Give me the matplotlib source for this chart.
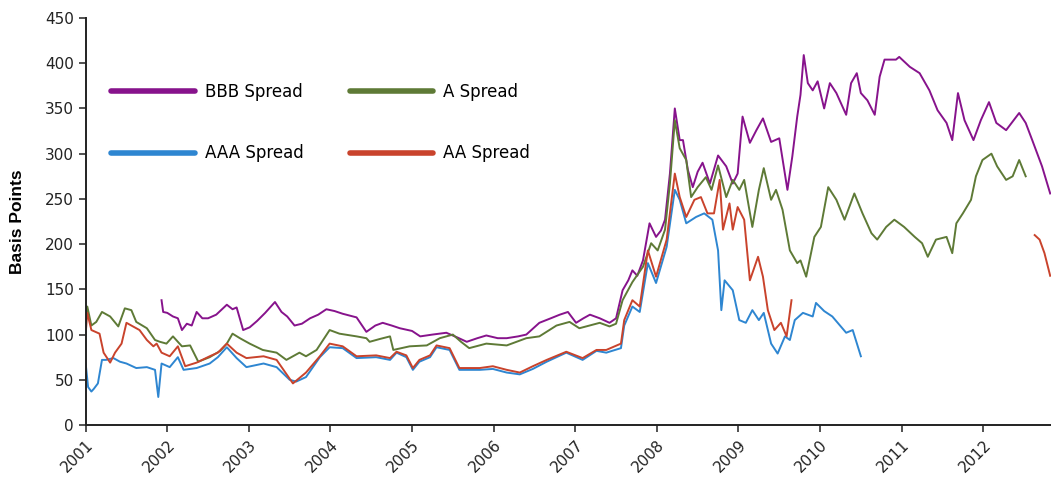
import numpy as np
import matplotlib
matplotlib.use("Agg")
import matplotlib.pyplot as plt
from matplotlib.lines import Line2D

nan = np.nan

bbb_t = [
2001.93, 2001.95, 2002.00, 2002.07, 2002.13, 2002.18, 2002.24, 2002.30, 2002.36, 2002.43,
2002.50, 2002.60, 2002.73, 2002.80, 2002.85, 2002.93, 2003.01, 2003.10, 2003.20, 2003.32,
2003.40, 2003.47, 2003.56, 2003.65, 2003.75, 2003.85, 2003.95, 2004.05, 2004.15, 2004.32,
2004.44, 2004.55, 2004.64, 2004.75, 2004.85, 2005.00, 2005.10, 2005.25, 2005.42, 2005.55,
2005.67, 2005.80, 2005.91, 2006.05, 2006.16, 2006.30, 2006.40, 2006.56, 2006.70, 2006.81,
2006.91, 2007.01, 2007.10, 2007.18, 2007.30, 2007.42, 2007.50, 2007.58, 2007.65, 2007.70,
2007.76, 2007.83, 2007.91, 2007.99, 2008.05, 2008.10, 2008.16, 2008.22, 2008.28, 2008.32,
2008.38, 2008.44, 2008.50, 2008.56, 2008.65, 2008.75, 2008.85, 2008.93, 2008.99, 2009.05,
2009.14, 2009.22, 2009.30, 2009.40, 2009.50, 2009.60, 2009.66, 2009.72, 2009.76, 2009.80,
2009.85, 2009.91, 2009.97, 2010.05, 2010.12, 2010.20, 2010.32, 2010.38, 2010.45, 2010.50,
2010.58, 2010.67, 2010.73, 2010.79, 2010.93, 2010.97, 2011.10, 2011.22, 2011.34, 2011.44,
2011.55, 2011.62, 2011.69, 2011.77, 2011.88, 2011.97, 2012.07, 2012.16, 2012.28, 2012.44,
2012.52, 2012.60, 2012.72, 2012.82]
bbb_v = [
138, 125, 124, 120, 118, 105, 112, 110, 125, 118,
118, 122, 133, 128, 130, 105, 108, 115, 124, 136,
125, 120, 110, 112, 118, 122, 128, 126, 123, 119,
103, 110, 113, 110, 107, 104, 98, 100, 102, 97,
92, 96, 99, 96, 96, 98, 100, 113, 118, 122,
125, 113, 118, 122, 118, 113, 118, 149, 160, 171,
165, 182, 223, 208, 215, 227, 278, 350, 315, 315,
282, 263, 280, 290, 267, 298, 286, 267, 278, 341,
312, 326, 339, 313, 317, 260, 297, 341, 365, 409,
378, 370, 380, 350, 378, 367, 343, 378, 389, 367,
359, 343, 385, 404, 404, 407, 396, 389, 370, 348,
334, 315, 367, 337, 315, 337, 357, 334, 326, 345,
334, 315, 286, 256]

a_t = [
2001.00, 2001.02, 2001.07, 2001.13, 2001.20, 2001.30, 2001.40, 2001.48, 2001.56, 2001.62,
2001.75, 2001.85, 2001.91, 2001.99, 2002.07, 2002.18, 2002.28, 2002.38, 2002.52, 2002.65,
2002.73, 2002.80, 2002.89, 2003.01, 2003.17, 2003.34, 2003.46, 2003.62, 2003.70, 2003.83,
2003.99, 2004.11, 2004.32, 2004.44, 2004.48, 2004.60, 2004.73, 2004.77, 2004.97, 2005.18,
2005.34, 2005.50, 2005.60, 2005.70, 2005.91, 2006.16, 2006.40, 2006.56, 2006.77, 2006.93,
2007.05, 2007.30, 2007.42, 2007.50, 2007.58, 2007.70, 2007.83, 2007.93, 2008.01, 2008.10,
2008.16, 2008.22, 2008.28, 2008.36, 2008.42, 2008.50, 2008.60, 2008.67, 2008.75, 2008.85,
2008.93, 2009.01, 2009.07, 2009.17, 2009.25, 2009.31, 2009.40, 2009.46, 2009.54, 2009.63,
2009.72, 2009.76, 2009.83, 2009.93, 2010.01, 2010.10, 2010.20, 2010.30, 2010.42, 2010.52,
2010.63, 2010.70, 2010.81, 2010.91, 2011.03, 2011.16, 2011.25, 2011.32, 2011.42, 2011.55,
2011.62, 2011.67, 2011.75, 2011.85, 2011.91, 2011.99, 2012.10, 2012.17, 2012.28, 2012.36,
2012.44, 2012.52]
a_v = [
120, 131, 110, 114, 125, 120, 109, 129, 127, 114,
107, 94, 92, 90, 98, 87, 88, 70, 75, 82,
90, 101, 96, 90, 83, 80, 72, 80, 76, 83,
105, 101, 98, 96, 92, 95, 98, 83, 87, 88,
96, 100, 92, 85, 90, 88, 96, 98, 110, 114,
107, 113, 109, 112, 138, 158, 175, 201, 193, 216,
267, 337, 306, 293, 252, 263, 274, 260, 287, 252,
271, 260, 271, 219, 260, 284, 249, 260, 238, 193,
179, 182, 164, 208, 219, 263, 249, 227, 256, 234,
212, 205, 219, 227, 219, 208, 201, 186, 205, 208,
190, 223, 234, 249, 275, 293, 300, 286, 271, 275,
293, 275]

aaa_t = [
2001.00, 2001.03, 2001.07, 2001.10, 2001.15, 2001.20, 2001.25, 2001.34, 2001.42, 2001.50,
2001.62, 2001.75, 2001.85, 2001.89, 2001.93, 2002.03, 2002.13, 2002.20, 2002.36, 2002.52,
2002.62, 2002.73, 2002.85, 2002.97, 2003.18, 2003.34, 2003.50, 2003.58, 2003.70, 2003.87,
2003.99, 2004.15, 2004.32, 2004.56, 2004.73, 2004.81, 2004.93, 2005.01, 2005.09, 2005.22,
2005.30, 2005.46, 2005.58, 2005.83, 2005.99, 2006.16, 2006.32, 2006.48, 2006.65, 2006.89,
2007.09, 2007.26, 2007.38, 2007.56, 2007.60, 2007.70, 2007.79, 2007.89, 2007.99, 2008.12,
2008.22, 2008.28, 2008.36, 2008.48, 2008.58, 2008.68, 2008.75, 2008.79, 2008.83, 2008.93,
2009.01, 2009.09, 2009.17, 2009.25, 2009.31, 2009.40, 2009.48, 2009.57, 2009.63, 2009.69,
2009.79, 2009.91, 2009.95, 2010.05, 2010.15, 2010.32, 2010.40, 2010.50]
aaa_v = [
68, 42, 37, 40, 46, 72, 72, 74, 70, 68,
63, 64, 61, 31, 68, 64, 75, 61, 63, 68,
75, 86, 74, 64, 68, 64, 50, 48, 53, 75,
86, 85, 74, 75, 72, 80, 75, 61, 70, 75,
86, 83, 61, 61, 62, 58, 56, 62, 70, 80,
72, 82, 80, 85, 110, 131, 125, 179, 157, 197,
260, 249, 223, 230, 234, 227, 193, 127, 160, 149,
116, 113, 127, 116, 124, 90, 79, 98, 94, 116,
124, 120, 135, 126, 120, 102, 105, 76]

aa_t = [
2001.00, 2001.02, 2001.07, 2001.17, 2001.22, 2001.30, 2001.36, 2001.44, 2001.50, 2001.58,
2001.66, 2001.75, 2001.83, 2001.87, 2001.93, 2002.03, 2002.13, 2002.22, 2002.36, 2002.52,
2002.62, 2002.73, 2002.85, 2002.97, 2003.18, 2003.34, 2003.54, 2003.70, 2003.87, 2003.99,
2004.15, 2004.32, 2004.56, 2004.73, 2004.81, 2004.93, 2005.01, 2005.09, 2005.22, 2005.30,
2005.46, 2005.58, 2005.83, 2005.99, 2006.16, 2006.32, 2006.48, 2006.65, 2006.89, 2007.09,
2007.26, 2007.38, 2007.56, 2007.60, 2007.70, 2007.79, 2007.89, 2007.99, 2008.12, 2008.22,
2008.28, 2008.36, 2008.46, 2008.54, 2008.62, 2008.70, 2008.77, 2008.81, 2008.89, 2008.93,
2008.99, 2009.07, 2009.14, 2009.24, 2009.30, 2009.36, 2009.44, 2009.52, 2009.59, 2009.65,
2009.66, 2012.63, 2012.69, 2012.75, 2012.82]
aa_v = [
101, 124, 105, 101, 80, 69, 80, 90, 113, 109,
105, 94, 87, 90, 80, 76, 87, 65, 69, 76,
80, 90, 80, 74, 76, 72, 46, 58, 76, 90,
87, 76, 77, 74, 81, 77, 63, 72, 77, 88,
85, 63, 63, 65, 61, 58, 65, 72, 81, 74,
83, 83, 90, 116, 138, 131, 193, 164, 205, 278,
252, 230, 249, 252, 234, 234, 271, 216, 245, 216,
241, 227, 160, 186, 164, 127, 105, 113, 98, 138,
nan, 210, 205, 190, 165]

year_ticks = list(range(2001, 2013))
year_labels = [str(y) for y in year_ticks]
y_ticks = list(range(0, 451, 50))

series = [
    ("BBB Spread", bbb_t, bbb_v, "#87138C"),
    ("A Spread", a_t, a_v, "#5E7A36"),
    ("AAA Spread", aaa_t, aaa_v, "#2E86D1"),
    ("AA Spread", aa_t, aa_v, "#C9432C"),
]

fig = plt.figure(figsize=(10.51, 4.79), dpi=100)
ax = fig.add_axes([0.0815, 0.1127, 0.9185, 0.8497])

colors = {}
for name, t, v, c in series:
    assert len(t) == len(v), name
    ax.plot(t, v, color=c, lw=1.4)
    colors[name] = c

ax.set_xlim(2001, 2012.83)
ax.set_ylim(0, 450)
ax.set_xticks(year_ticks)
ax.set_xticklabels(year_labels, rotation=45, ha="right", va="top",
                   rotation_mode="anchor", fontsize=11)
ax.set_yticks(y_ticks)
ax.set_yticklabels([str(v) for v in y_ticks], fontsize=11)
ax.tick_params(axis="both", direction="out", length=5, width=1.2, colors="#333333")
ax.tick_params(axis="x", pad=4)
for lab in ax.get_xticklabels() + ax.get_yticklabels():
    lab.set_color("#222222")
for s in ["top", "right"]:
    ax.spines[s].set_visible(False)
for s in ["left", "bottom"]:
    ax.spines[s].set_linewidth(1.4)
    ax.spines[s].set_color("#222222")

ax.set_ylabel("Basis Points", family="Liberation Sans", fontweight="bold",
              fontsize=12.5, labelpad=14)

order = ["BBB Spread", "AAA Spread", "A Spread", "AA Spread"]
leg_h = [Line2D([], [], color=colors[n], lw=4, solid_capstyle="round") for n in order]
ax.legend(leg_h, order, ncol=2, loc="upper left",
          bbox_to_anchor=(0.011, 0.877), frameon=False,
          fontsize=12, handlelength=5.0, handletextpad=0.6,
          columnspacing=2.8, labelspacing=2.6)

fig.savefig("out.png", dpi=100)
